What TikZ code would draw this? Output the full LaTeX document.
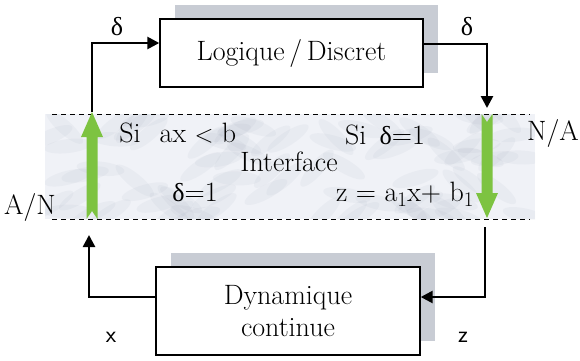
\documentclass[tikz,border=0pt]{standalone}
\usepackage{fontspec}
\newfontfamily\greekfont{Liberation Serif}
\usetikzlibrary{arrows.meta,shadows}
\definecolor{shadowgray}{RGB}{200,204,212}
\definecolor{arrowgreen}{RGB}{125,195,65}
\definecolor{marble}{RGB}{240,242,247}
\definecolor{vein}{RGB}{140,150,172}
\newcommand{\dlt}{{\greekfont\fontsize{26}{30}\selectfont δ}}

\begin{document}
\begin{tikzpicture}[
    x=1pt, y=-1pt,
    font=\fontsize{28}{32}\selectfont,
    block/.style={draw, line width=1.4pt, fill=white, align=center, inner sep=0pt,
        drop shadow={shadow xshift=15pt, shadow yshift=14pt, fill=shadowgray, opacity=1}},
    conn/.style={line width=2.6pt, -{Triangle[length=12pt,width=12pt]}},
    border/.style={line width=0.7pt, dash pattern=on 5pt off 4pt},
    lbl/.style={inner sep=0pt},
    var/.style={inner sep=0pt, font=\fontsize{24}{28}\selectfont\sffamily}
]
\useasboundingbox (0,0) rectangle (580,360);

% interface band
\fill[marble] (45,114) rectangle (535,219);
\begin{scope}
    \clip (45,114) rectangle (535,219);
    \pgfmathsetseed{12}
    \foreach \i in {1,...,90} {
        \pgfmathsetmacro{\bx}{45+490*rnd}
        \pgfmathsetmacro{\by}{114+105*rnd}
        \pgfmathsetmacro{\ba}{-50+100*rnd}
        \fill[vein, opacity=0.07, rotate around={\ba:(\bx,\by)}] (\bx,\by) ellipse (24 and 7);
    }
\end{scope}
\draw[border] (52,114) -- (530,114);
\draw[border] (52,219) -- (530,219);

% green A/N and N/A arrows
\fill[arrowgreen] (92,112) -- (103,137) -- (97.5,137) -- (97.5,219) -- (92,211) -- (86.5,219) -- (86.5,137) -- (81,137) -- cycle;
\fill[arrowgreen] (487,218) -- (498,193) -- (492.5,193) -- (492.5,114) -- (487,122) -- (481.5,114) -- (481.5,193) -- (476,193) -- cycle;

\coordinate (anTop) at (92,112);
\coordinate (naTip) at (487,108);
\coordinate (xTip) at (89,235);
\coordinate (zTop) at (485,227);

% blocks
\node[block, minimum width=263pt, minimum height=68pt] (logique) at (291.5,53) {Logique\,/\,Discret};
\node[block, minimum width=264pt, minimum height=88pt] (dynamique) at (288,311) {Dynamique\\continue};

% connectors
\draw[conn] (anTop) |- ([yshift=10pt]logique.west);
\draw[conn] ([yshift=9pt]logique.east) -| (naTip);
\draw[conn] (zTop) |- ([yshift=14pt]dynamique.east);
\draw[conn] ([yshift=14pt]dynamique.west) -| (xTip);

% labels
\node[lbl] (dIn) at (117,27) {\dlt};
\node[lbl] (dOut) at (467,27) {\dlt};
\node[lbl] (si1) at (130,133) {Si};
\node[lbl] (cond) at (198,133) {ax $<$ b};
\node[lbl] (inter) at (289,162) {Interface};
\node[lbl] (delta1) at (195,192) {\dlt=1};
\node[lbl] (si2) at (385,135) {Si\ \,\dlt=1};
\node[lbl] (zeq) at (405,194) {z = a$_1$x+ b$_1$};
\node[lbl] (na) at (553,133) {N/A};
\node[lbl] (an) at (30,207) {A/N};
\node[var] (xlbl) at (111,337) {x};
\node[var] (zlbl) at (463,337) {z};
\end{tikzpicture}
\end{document}
